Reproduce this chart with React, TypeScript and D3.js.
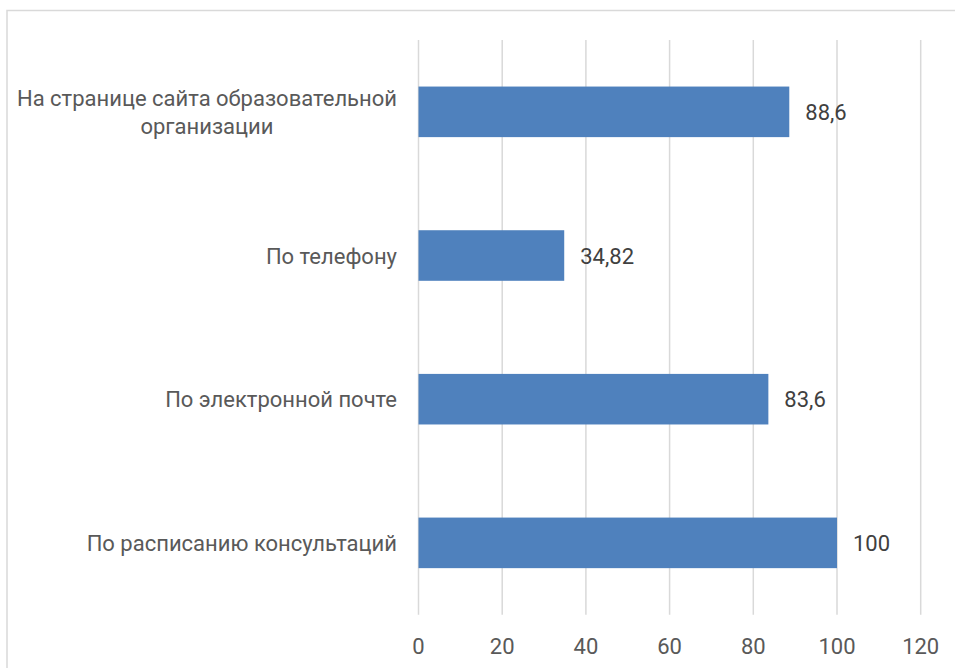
import React, { useLayoutEffect, useRef, useState } from "react";
import * as d3 from "d3";

const categories: string[][] = [
  ["На странице сайта образовательной", "организации"],
  ["По телефону"],
  ["По электронной почте"],
  ["По расписанию консультаций"],
];
const values: number[] = [88.6, 34.82, 83.6, 100];
const valueLabels: string[] = ["88,6", "34,82", "83,6", "100"];
const ticks: number[] = [0, 20, 40, 60, 80, 100, 120];

const W = 955;
const H = 668;
const FONT = "Roboto, 'Open Sans', sans-serif";

export default function App() {
  const plot = { left: 418.5, right: 920.7, top: 40, bottom: 614.7 };
  const x = d3.scaleLinear().domain([0, 120]).range([plot.left, plot.right]);
  const y = d3
    .scaleBand<number>()
    .domain(d3.range(categories.length))
    .range([plot.top, plot.bottom])
    .padding(0);
  const barH = y.bandwidth() * 0.352;
  const fs = 22;
  const lineH = 28.5;
  const labelRight = 397;

  const measureRef = useRef<SVGGElement>(null);
  const [widths, setWidths] = useState<number[]>(categories.map(() => 0));
  useLayoutEffect(() => {
    const g = measureRef.current;
    if (!g) return;
    const texts = Array.from(g.querySelectorAll("text")) as SVGTextElement[];
    const ws: number[] = categories.map(() => 0);
    texts.forEach((t) => {
      const i = +(t.getAttribute("data-i") || 0);
      ws[i] = Math.max(ws[i], t.getComputedTextLength());
    });
    setWidths(ws);
  }, []);

  return (
    <svg
      width={W}
      height={H}
      style={{ position: "absolute", left: 0, top: 0, background: "#fff" }}
      fontFamily={FONT}
    >
      <rect x={7} y={10.5} width={980} height={700} fill="#fff" stroke="#d9d9d9" strokeWidth={1.5} />
      <g ref={measureRef} visibility="hidden">
        {categories.map((lines, i) =>
          lines.map((ln, j) => (
            <text key={i + "-" + j} data-i={i} fontSize={fs}>
              {ln}
            </text>
          ))
        )}
      </g>
      {ticks.map((t) => (
        <g key={t}>
          <line x1={x(t)} x2={x(t)} y1={plot.top} y2={plot.bottom} stroke="#d9d9d9" strokeWidth={1.5} />
          <text x={x(t)} y={654} textAnchor="middle" fontSize={fs} fill="#595959">
            {t}
          </text>
        </g>
      ))}
      {values.map((v, i) => {
        const cy = (y(i) as number) + y.bandwidth() / 2;
        return (
          <g key={i}>
            <rect x={x(0)} y={cy - barH / 2} width={x(v) - x(0)} height={barH} fill="#4f81bd" />
            <text x={x(v) + 16} y={cy + 8} fontSize={fs} fill="#404040">
              {valueLabels[i]}
            </text>
          </g>
        );
      })}
      {categories.map((lines, i) => {
        const cy = (y(i) as number) + y.bandwidth() / 2;
        const n = lines.length;
        const cx = labelRight - widths[i] / 2;
        return (
          <g key={i}>
            {lines.map((ln, j) => (
              <text
                key={j}
                x={cx}
                y={cy + 8 + (j - (n - 1) / 2) * lineH}
                textAnchor="middle"
                fontSize={fs}
                fill="#595959"
              >
                {ln}
              </text>
            ))}
          </g>
        );
      })}
    </svg>
  );
}
